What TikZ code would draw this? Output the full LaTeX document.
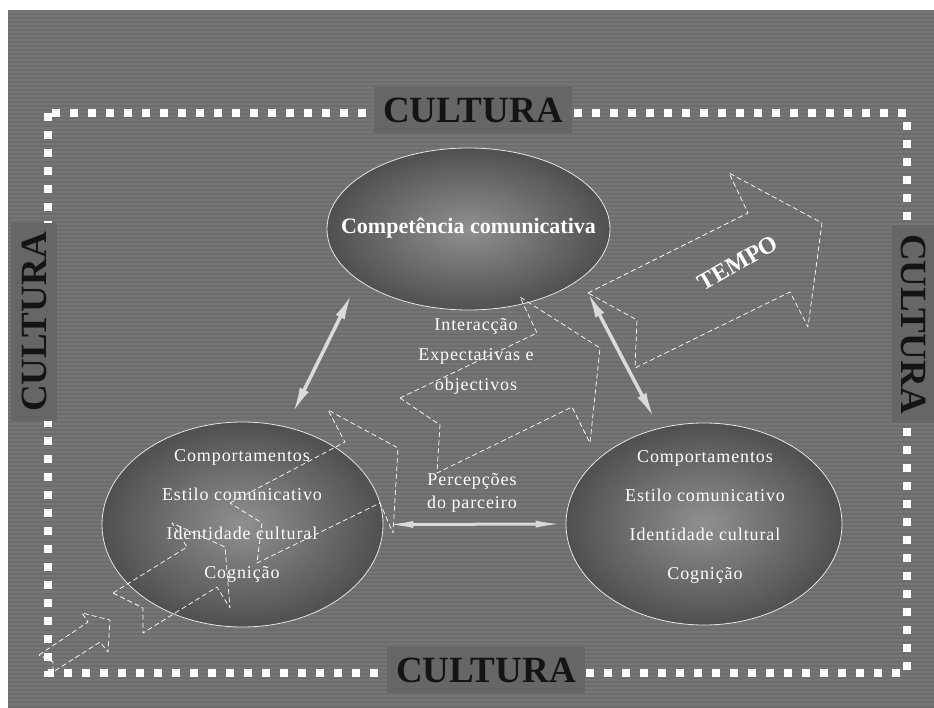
\documentclass[tikz,border=0pt]{standalone}
\usepackage{fontspec}
\setmainfont{Liberation Serif}
\newfontfamily\spacedserif[LetterSpace=5]{Liberation Serif}
\usetikzlibrary{arrows.meta}
\usetikzlibrary{shapes.geometric}
\definecolor{bggray}{HTML}{6D6D6D}
\definecolor{stripegray}{HTML}{757575}
\definecolor{boxgray}{HTML}{666666}
\definecolor{ellcentre}{HTML}{909090}
\definecolor{elledge}{HTML}{1A1A1A}
\definecolor{linkgray}{HTML}{DADADA}
\pgfdeclareradialshading{ellglow}{\pgfpoint{0bp}{0bp}}{color(0bp)=(ellcentre); color(46bp)=(elledge); color(50bp)=(elledge)}

\begin{document}
\begin{tikzpicture}[x=1pt,y=-1pt,
		ellnode/.style={ellipse,draw=white!90!black,line width=0.8pt,shading=ellglow,inner sep=0pt},
		elltext/.style={text=white,font=\spacedserif\fontsize{18}{39}\selectfont,align=center},
		midtext/.style={text=white,align=center},
		culture/.style={fill=boxgray,text=black!92,font=\bfseries\fontsize{37}{37}\selectfont,minimum width=198pt,minimum height=46pt,inner sep=0pt},
		timearrow/.style={draw=white,line width=0.7pt,dash pattern=on 5pt off 3pt,line join=round},
		linkarrow/.style={draw=linkgray,line width=3.5pt,{Latex[length=26pt,width=10pt]}-{Latex[length=26pt,width=10pt]}}
		]
		\useasboundingbox (0,0) rectangle (934,708);
		% background
		\fill[bggray] (8,10) rectangle (934,708);
		\foreach \s in {12,16,...,706}
			\draw[stripegray,line width=1.3pt] (8,\s) -- (934,\s);
		\draw[white,line width=8pt,dash pattern=on 8pt off 10pt] (48,113) rectangle (907,673);
		\node (ctop) [culture] at (473,110) {CULTURA};
		\node (cbottom) [culture] at (486,670) {CULTURA};
		\node (cleft) [culture,rotate=90] at (34,322) {CULTURA};
		\node (cright) [culture,rotate=-90,minimum height=44pt] at (914,324) {CULTURA};
		% the three ellipses
		\node (compet) [ellnode,minimum width=283pt,minimum height=162pt] at (468.5,229) {};
		\node (selfA) [ellnode,minimum width=281pt,minimum height=205pt] at (242.5,524.5) {};
		\node (selfB) [ellnode,minimum width=276pt,minimum height=202pt] at (704,524) {};
		% dashed time arrows
		\draw[timearrow] (39,655) -- (88,622) -- (82,613) -- (110,620) -- (108,652) -- (100,642) -- (53,672) -- (53,662) -- cycle;
		\draw[timearrow] (113,593) -- (187,547) -- (172,523) -- (225,547) -- (230,608) -- (217,587) -- (143,633) -- (143,608) -- cycle;
		\draw[timearrow] (230,503) -- (345,442) -- (328,410) -- (398,448) -- (393,533) -- (380,503) -- (257,563) -- (262,523) -- cycle;
		\draw[timearrow] (400,398) -- (537,333) -- (520,297) -- (600,348) -- (590,443) -- (572,407) -- (437,473) -- (440,425) -- cycle;
		\draw[timearrow] (588,293) -- (748,213) -- (729,173) -- (822,223) -- (808,327) -- (790,292) -- (635,368) -- (637,320) -- cycle;
		\node (tempo) [rotate=30,text=white,font=\bfseries\fontsize{24}{24}\selectfont] at (738,263) {TEMPO};
		% texts
		\node (competlabel) [text=white,font=\bfseries\fontsize{22}{22}\selectfont] at (468.5,228) {Competência comunicativa};
		\node (selfAtext) [elltext] at (242,516) {Comportamentos\\Estilo comunicativo\\Identidade cultural\\Cognição};
		\node (selfBtext) [elltext] at (705,517) {Comportamentos\\Estilo comunicativo\\Identidade cultural\\Cognição};
		\node (inter) [midtext,font=\spacedserif\fontsize{18}{30}\selectfont] at (476,356) {Interacção\\Expectativas e\\objectivos};
		\node (percep) [midtext,font=\spacedserif\fontsize{18}{23}\selectfont] at (472,493) {Percepções\\do parceiro};
		% links
		\draw[linkarrow,shorten <=15pt,shorten >=15pt] (selfA.66) -- (compet.205);
		\draw[linkarrow,shorten <=15pt,shorten >=11pt] (compet.336) -- (selfB.115);
		\draw[linkarrow,line width=3pt,{Latex[length=30pt,width=7pt]}-{Latex[length=30pt,width=7pt]},shorten <=0pt,shorten >=0pt] (selfA.east) -- (selfB.west);
\end{tikzpicture}
\end{document}
